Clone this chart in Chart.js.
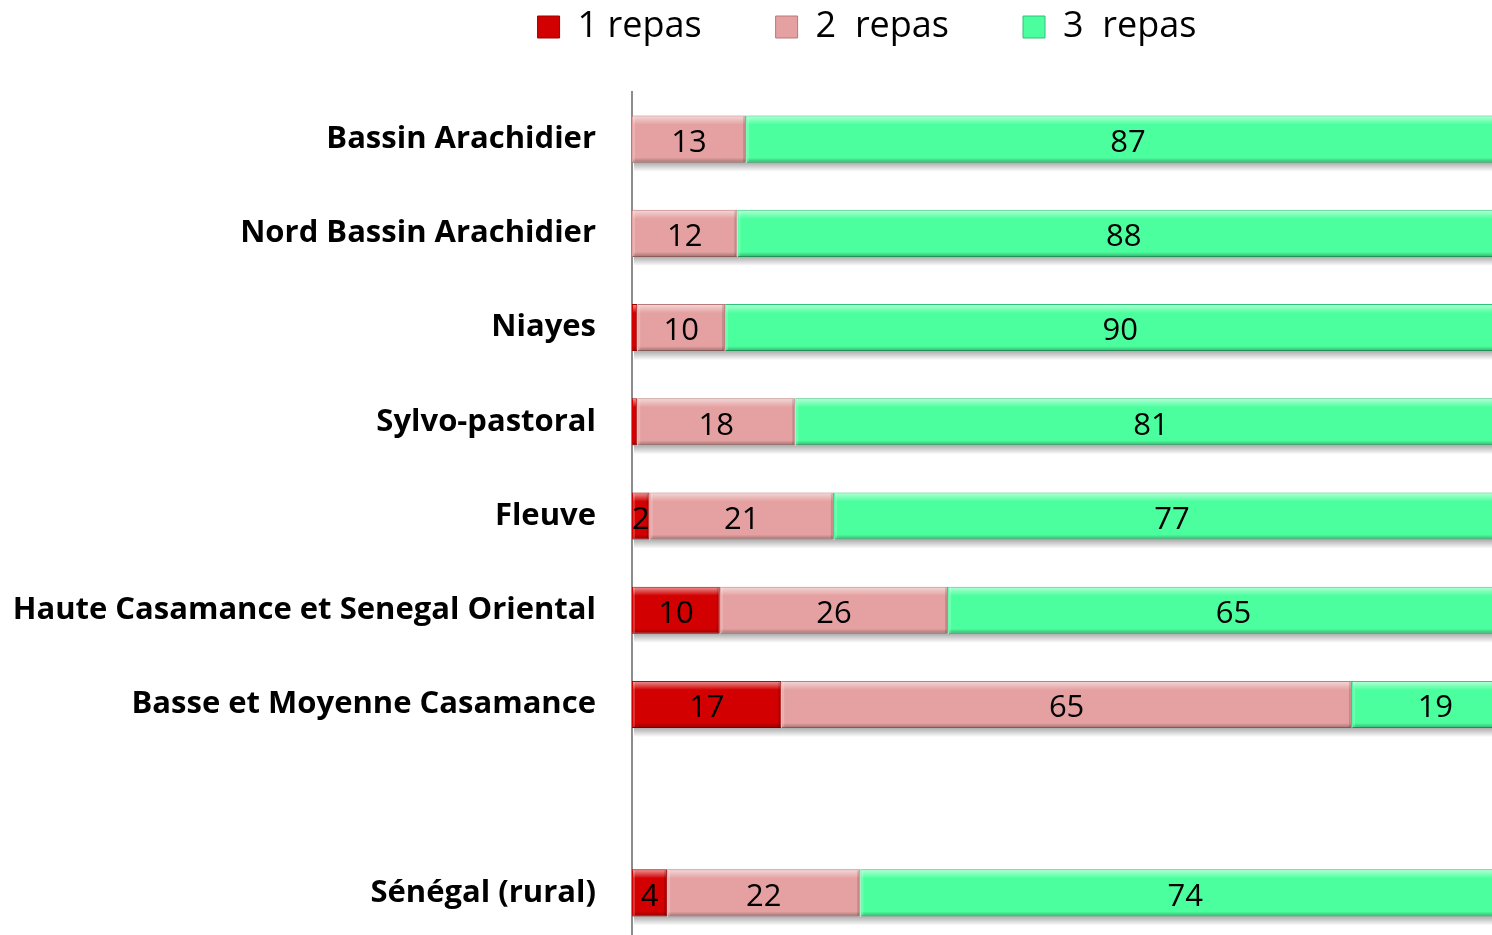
<!DOCTYPE html>
<html>
<head>
<meta charset="utf-8">
<script src="https://cdn.jsdelivr.net/npm/chart.js@4/dist/chart.umd.min.js"></script>
<style>
html,body{margin:0;padding:0;background:#fff;overflow:hidden;width:1492px;height:935px;}
#wrap{position:absolute;left:0;top:0;width:1510px;height:940px;}
</style>
</head>
<body>
<div id="wrap"><canvas id="c" width="1510" height="940"></canvas></div>
<script>
const categories = ["Bassin Arachidier","Nord Bassin Arachidier","Niayes","Sylvo-pastoral","Fleuve","Haute Casamance et Senegal Oriental","Basse et Moyenne Casamance","","Sénégal (rural)"];
const seriesNames = ["1 repas","2  repas","3  repas"];
const repas1 = [0, 0, 0.6, 0.6, 2, 10, 17, null, 4];
const repas2 = [13, 12, 10, 18, 21, 26, 65, null, 22];
const repas3 = [87, 88, 90, 81, 77, 65, 19, null, 74];

const FONT = "'Open Sans'";

function eachBar(chart, fn){
  chart.data.datasets.forEach((ds, di) => {
    const meta = chart.getDatasetMeta(di);
    meta.data.forEach((el, i) => {
      const v = ds.data[i];
      if (v == null || v === 0) return;
      fn(el, v, di, i);
    });
  });
}

const barStylePlugin = {
  id: 'barStyle',
  beforeDatasetsDraw(chart){
    const ctx = chart.ctx, a = chart.chartArea;
    ctx.save();
    ctx.beginPath(); ctx.rect(a.left, a.top, a.right - a.left, a.bottom - a.top); ctx.clip();
    eachBar(chart, (el) => {
      const l = Math.min(el.x, el.base), r = Math.max(el.x, el.base);
      const b = el.y + el.height / 2;
      const g = ctx.createLinearGradient(0, b, 0, b + 9);
      g.addColorStop(0, 'rgba(0,0,0,0.32)');
      g.addColorStop(1, 'rgba(0,0,0,0)');
      ctx.fillStyle = g;
      ctx.fillRect(l + 2, b, r - l, 9);
    });
    ctx.restore();
  },
  afterDatasetsDraw(chart){
    const ctx = chart.ctx, a = chart.chartArea;
    ctx.save();
    ctx.beginPath(); ctx.rect(a.left, a.top, a.right - a.left, a.bottom - a.top); ctx.clip();
    eachBar(chart, (el) => {
      const l = Math.min(el.x, el.base), r = Math.max(el.x, el.base);
      const t = el.y - el.height / 2, b = el.y + el.height / 2;
      const w = r - l;
      let g = ctx.createLinearGradient(0, t, 0, t + 9);
      g.addColorStop(0, 'rgba(255,255,255,0.6)');
      g.addColorStop(1, 'rgba(255,255,255,0)');
      ctx.fillStyle = g; ctx.fillRect(l + 1, t + 1, w - 2, 9);
      g = ctx.createLinearGradient(0, b - 5, 0, b);
      g.addColorStop(0, 'rgba(0,0,0,0)');
      g.addColorStop(1, 'rgba(0,0,0,0.3)');
      ctx.fillStyle = g; ctx.fillRect(l + 1, b - 5, w - 2, 5);
      if (w > 6) {
        ctx.fillStyle = 'rgba(0,0,0,0.14)';
        ctx.fillRect(r - 3, t + 1, 2, el.height - 2);
        ctx.fillStyle = 'rgba(255,255,255,0.2)';
        ctx.fillRect(l + 1, t + 1, 2, el.height - 2);
      }
    });
    ctx.restore();
    ctx.save();
    ctx.font = "31px " + FONT;
    ctx.fillStyle = '#000';
    ctx.textAlign = 'center';
    ctx.textBaseline = 'middle';
    eachBar(chart, (el, v) => {
      if (v < 1) return;
      ctx.fillText(String(v), (el.x + el.base) / 2, el.y + 4);
    });
    ctx.restore();
  }
};

const legendShift = {
  id: 'legendShift',
  afterLayout(chart){
    const lg = chart.legend;
    if (!lg) return;
    const dx = 112;
    lg.left += dx; lg.right += dx;
    lg.top = 27 - 18 - 74;
  }
};

new Chart(document.getElementById('c'), {
  type: 'bar',
  data: {
    labels: categories,
    datasets: [
      {label: seriesNames[0], data: repas1, backgroundColor: '#D20000', borderColor: '#9E0000', borderWidth: 1},
      {label: seriesNames[1], data: repas2, backgroundColor: '#E5A1A1', borderColor: '#B87A7A', borderWidth: 1},
      {label: seriesNames[2], data: repas3, backgroundColor: '#4CFF9E', borderColor: '#2FC276', borderWidth: 1}
    ]
  },
  options: {
    indexAxis: 'y',
    responsive: false,
    animation: false,
    devicePixelRatio: 1,
    layout: {padding: 0},
    datasets: {bar: {categoryPercentage: 1, barPercentage: 0.5}},
    scales: {
      x: {stacked: true, min: 0, max: 100, display: false},
      y: {
        stacked: true,
        grid: {display: false, drawTicks: false},
        border: {display: true, color: '#8c8c8c', width: 2},
        ticks: {autoSkip: false, padding: 36, color: '#000', font: {family: FONT, size: 31, weight: 'bold'}},
        afterFit(s){ s.width = 632; s.paddingTop = 0; s.paddingBottom = 0; }
      }
    },
    plugins: {
      tooltip: {enabled: false},
      legend: {
        position: 'top',
        maxHeight: 92,
        labels: {
          boxWidth: 22, boxHeight: 22, padding: 74, color: '#000',
          font: {family: FONT, size: 36}
        }
      }
    }
  },
  plugins: [barStylePlugin, legendShift]
});
</script>
</body>
</html>
